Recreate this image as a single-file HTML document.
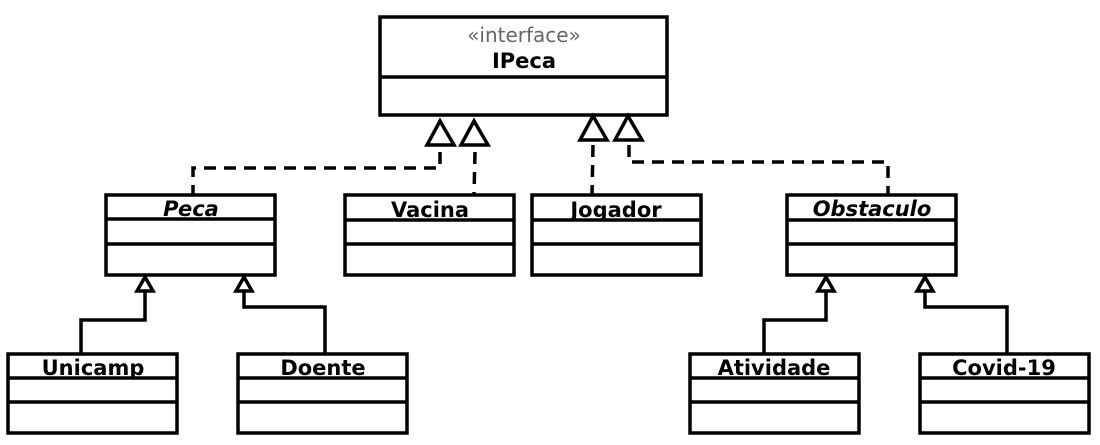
<!DOCTYPE html>
<html><head><meta charset="utf-8"><style>
html,body{margin:0;padding:0;background:#fff;width:1100px;height:445px;overflow:hidden}
text{font-family:"DejaVu Sans","Liberation Sans",sans-serif;font-weight:bold;font-size:21px;fill:#000}
</style></head><body>
<svg width="1100" height="445" xmlns="http://www.w3.org/2000/svg">
<g fill="#fff" stroke="#000" stroke-width="3.5">
<rect x="380" y="17" width="287" height="98"/>
<line x1="380" y1="77" x2="667" y2="77"/>
<rect x="106" y="195" width="169" height="80"/><line x1="106" y1="219" x2="275" y2="219"/><line x1="106" y1="244" x2="275" y2="244"/>
<rect x="345" y="195" width="169" height="80"/><line x1="345" y1="220" x2="514" y2="220"/><line x1="345" y1="244" x2="514" y2="244"/>
<rect x="532" y="195" width="169" height="80"/><line x1="532" y1="220" x2="701" y2="220"/><line x1="532" y1="244" x2="701" y2="244"/>
<rect x="787" y="195" width="169" height="80"/><line x1="787" y1="220" x2="956" y2="220"/><line x1="787" y1="244" x2="956" y2="244"/>
<rect x="8" y="354" width="169" height="79"/><line x1="8" y1="378" x2="177" y2="378"/><line x1="8" y1="402" x2="177" y2="402"/>
<rect x="238" y="354" width="169" height="79"/><line x1="238" y1="378" x2="407" y2="378"/><line x1="238" y1="402" x2="407" y2="402"/>
<rect x="690" y="354" width="169" height="79"/><line x1="690" y1="378" x2="859" y2="378"/><line x1="690" y1="402" x2="859" y2="402"/>
<rect x="920" y="354" width="169" height="79"/><line x1="920" y1="378" x2="1089" y2="378"/><line x1="920" y1="402" x2="1089" y2="402"/>
</g>
<g fill="none" stroke="#000" stroke-width="3.5" stroke-dasharray="12,8">
<polyline points="440,152 440,168 193,168 193,195"/>
<line x1="475" y1="152" x2="474" y2="195"/>
<line x1="593" y1="145" x2="592" y2="195"/>
<polyline points="629,145 629,162 888,162 888,195"/>
</g>
<g fill="none" stroke="#000" stroke-width="3.5">
<polyline points="81,354 81,320 145,320 145,291"/>
<polyline points="325,354 325,307 244,307 244,291"/>
<polyline points="764,354 764,320 826,320 826,291"/>
<polyline points="1007,354 1007,307 925,307 925,291"/>
</g>
<g fill="#fff" stroke="#000" stroke-width="3.5" stroke-linejoin="miter">
<polygon points="440,121 427,145 454,145"/>
<polygon points="474,121 461,145 488,145"/>
<polygon points="593,116 580,140 607,140"/>
<polygon points="628,116 615,140 642,140"/>
<polygon points="145,277 137,291 153,291"/>
<polygon points="244,277 236,291 252,291"/>
<polygon points="826,277 818,291 834,291"/>
<polygon points="925,277 917,291 933,291"/>
</g>
<text x="524" y="42" text-anchor="middle" style="font-weight:normal;fill:#666;font-size:20px">«interface»</text>
<text x="524" y="68" text-anchor="middle">IPeca</text>
<text x="191" y="216" text-anchor="middle" font-style="italic">Peca</text>
<text x="430" y="217" text-anchor="middle">Vacina</text>
<text x="616" y="217" text-anchor="middle">Jogador</text>
<text x="872" y="216" text-anchor="middle" font-style="italic">Obstaculo</text>
<text x="93" y="375" text-anchor="middle">Unicamp</text>
<text x="323" y="375" text-anchor="middle">Doente</text>
<text x="774" y="375" text-anchor="middle">Atividade</text>
<text x="1004" y="375" text-anchor="middle">Covid-19</text>
</svg>
</body></html>
